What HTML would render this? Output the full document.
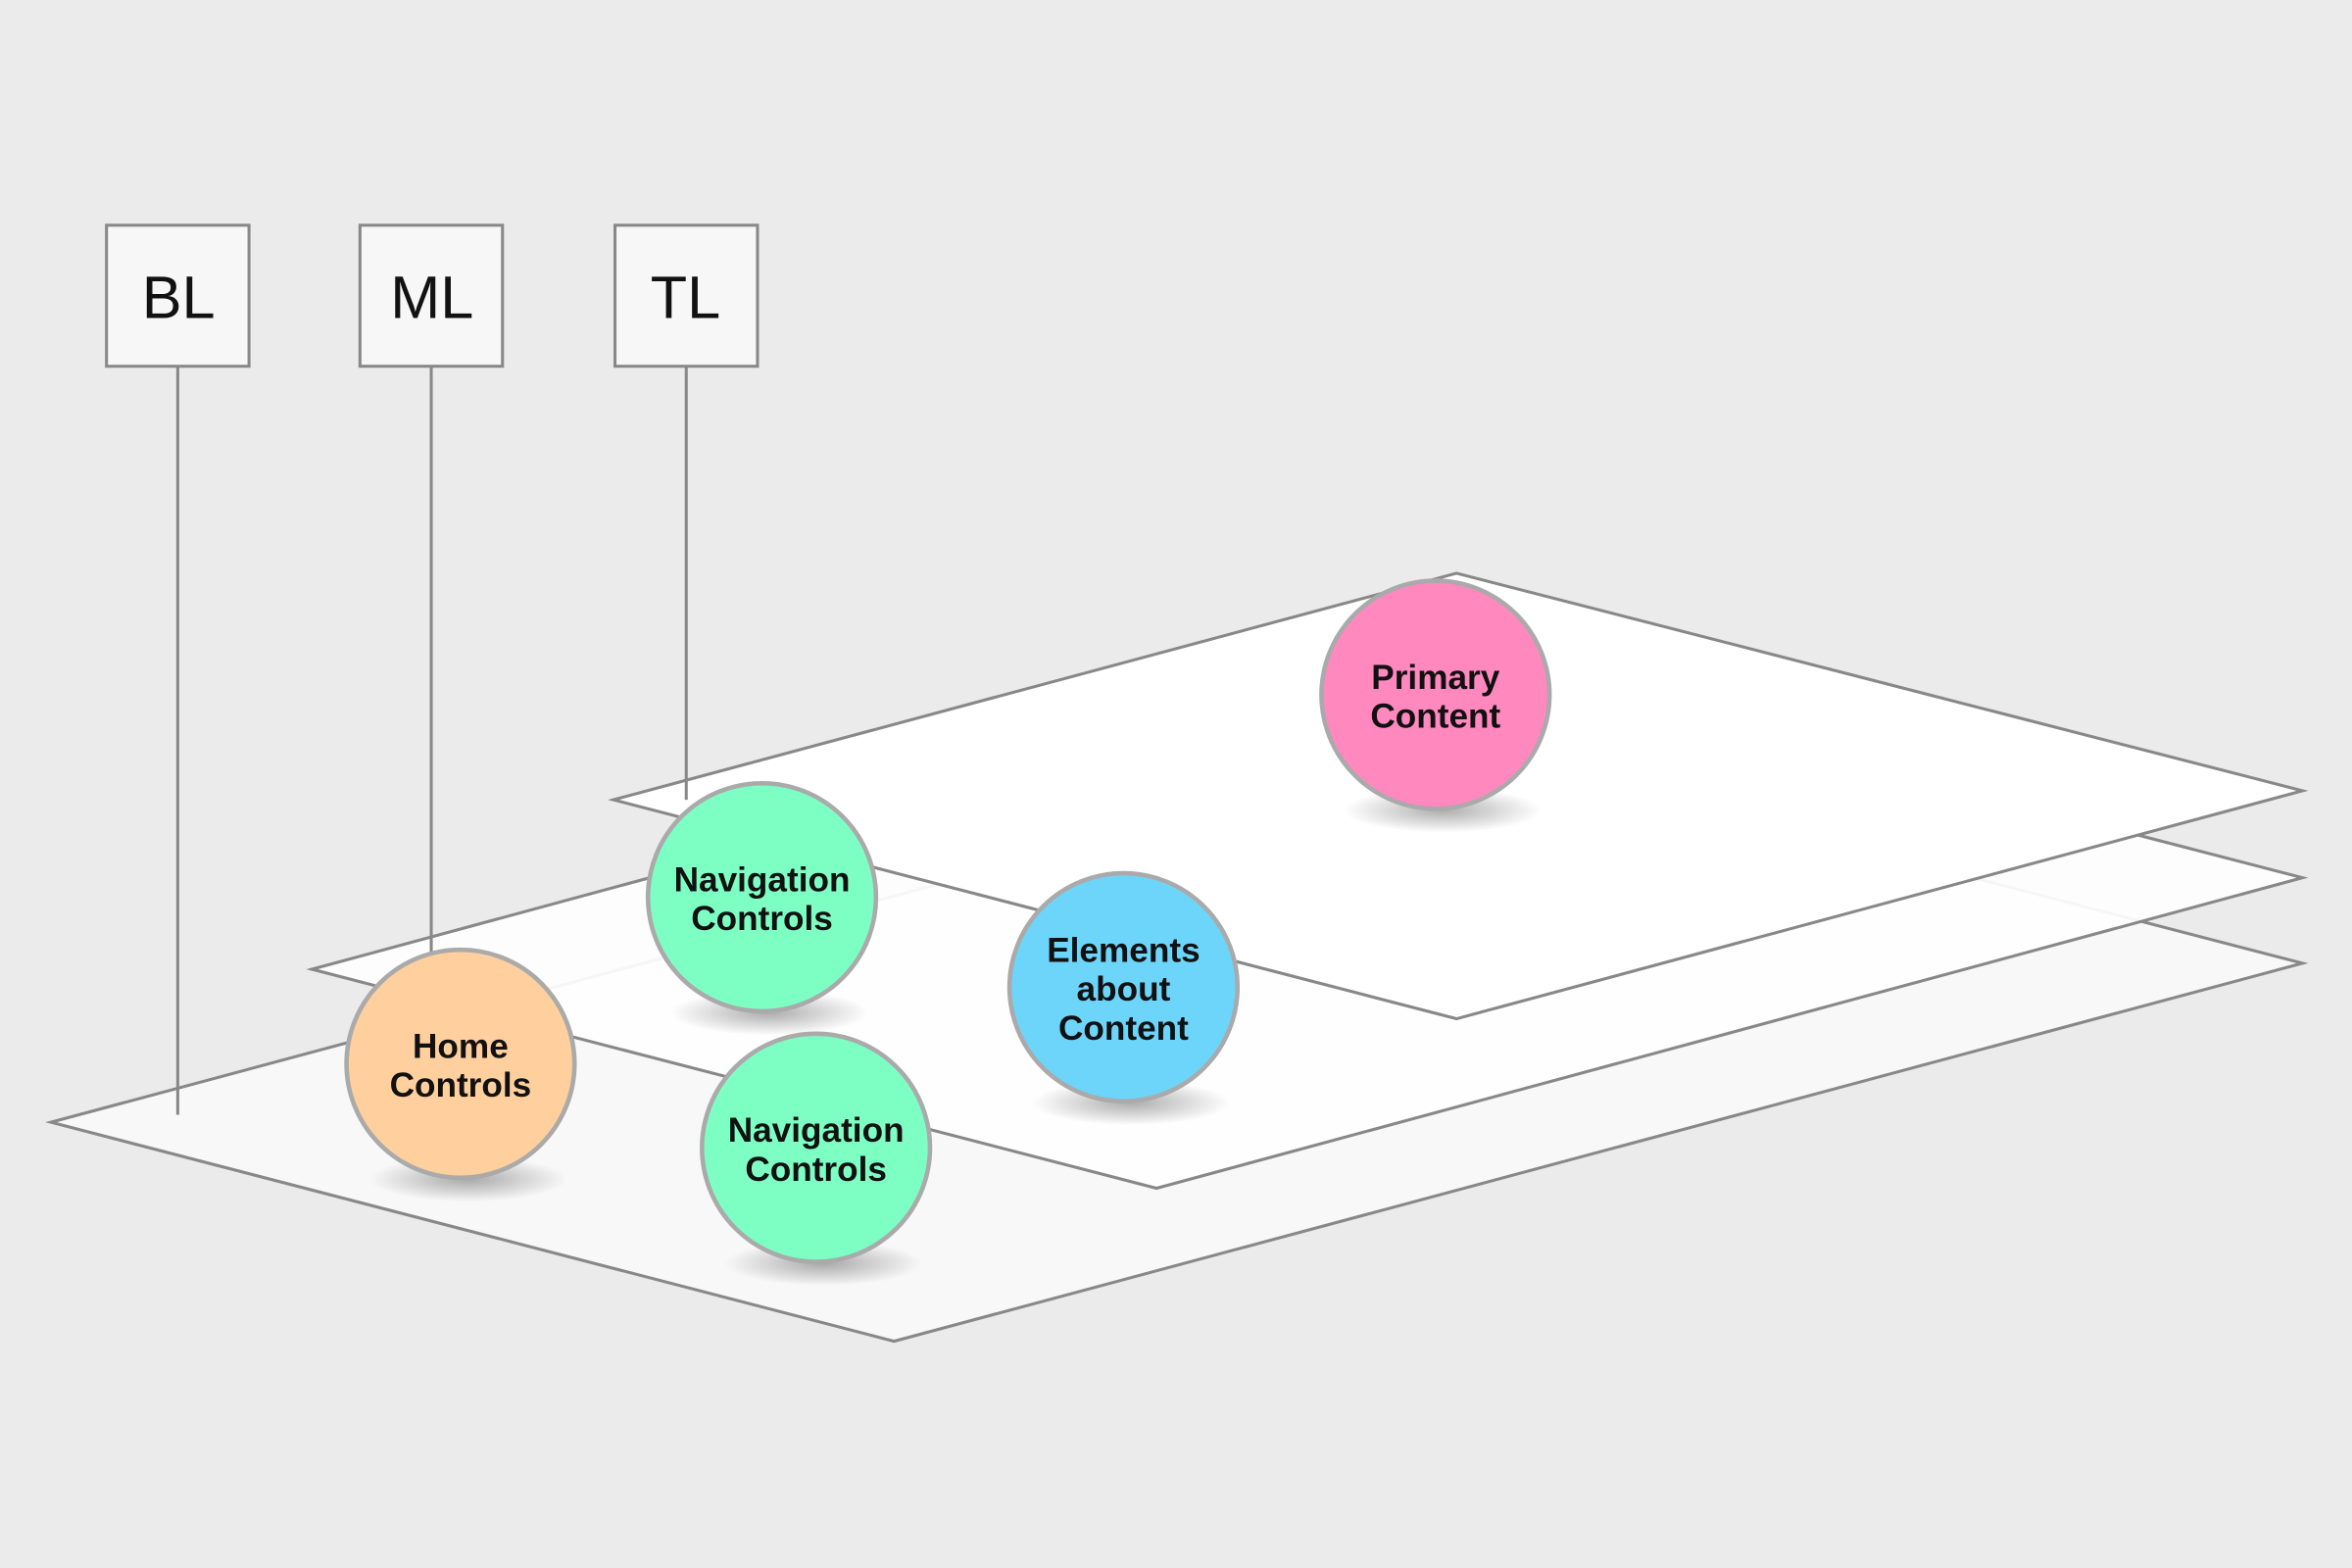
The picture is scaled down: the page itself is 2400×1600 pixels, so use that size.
<!DOCTYPE html>
<html><head><meta charset="utf-8"><style>
html,body{margin:0;padding:0;background:#ebebeb;}
svg{display:block;}
text{font-family:"Liberation Sans","DejaVu Sans",sans-serif;}
</style></head><body>
<svg width="2400" height="1600" viewBox="0 0 1568 1045" xmlns="http://www.w3.org/2000/svg">
<defs>
<radialGradient id="sh" cx="50%" cy="50%" r="50%">
<stop offset="0" stop-color="#000" stop-opacity="0.32"/>
<stop offset="1" stop-color="#000" stop-opacity="0"/>
</radialGradient>
</defs>
<rect width="1568" height="1045" fill="#ebebeb"/>
<polygon points="34,748 973,496 1535,642 596,894" fill="#f8f8f8" stroke="#888" stroke-width="2"/>
<polygon points="208,646 972,439 1535,585 771,792" fill="#fefefe" fill-opacity="0.93" stroke="#888" stroke-width="2"/>
<polygon points="409,533 971,382 1535,527 971,679" fill="#fff" stroke="#888" stroke-width="2"/>
<ellipse cx="962" cy="540" rx="66" ry="15" fill="url(#sh)"/>
<ellipse cx="513" cy="675" rx="66" ry="15" fill="url(#sh)"/>
<ellipse cx="754" cy="735" rx="66" ry="15" fill="url(#sh)"/>
<ellipse cx="312" cy="786" rx="66" ry="15" fill="url(#sh)"/>
<ellipse cx="549" cy="842" rx="66" ry="15" fill="url(#sh)"/>
<g stroke="#888" stroke-width="2">
<line x1="118.5" y1="244" x2="118.5" y2="743"/>
<line x1="287.5" y1="244" x2="287.5" y2="635"/>
<line x1="457.5" y1="244" x2="457.5" y2="533"/>
<rect x="71" y="150" width="95" height="94" fill="#f7f7f7"/>
<rect x="240" y="150" width="95" height="94" fill="#f7f7f7"/>
<rect x="410" y="150" width="95" height="94" fill="#f7f7f7"/>
</g>
<g font-size="40" text-anchor="middle" fill="#111">
<text x="119" y="212">BL</text>
<text x="288" y="212">ML</text>
<text x="457" y="212">TL</text>
</g>
<g stroke="#aaa" stroke-width="3">
<circle cx="957" cy="463" r="76" fill="#ff88bf"/>
<circle cx="508" cy="598" r="76" fill="#7dffc4"/>
<circle cx="749" cy="658" r="76" fill="#6dd5fa"/>
<circle cx="307" cy="709" r="76" fill="#ffcf9e"/>
<circle cx="544" cy="765" r="76" fill="#7dffc4"/>
</g>
<g font-size="23" font-weight="bold" text-anchor="middle" fill="#111">
<text x="957" y="459">Primary</text><text x="957" y="485">Content</text>
<text x="508" y="594">Navigation</text><text x="508" y="620">Controls</text>
<text x="749" y="641">Elements</text><text x="749" y="667">about</text><text x="749" y="693">Content</text>
<text x="307" y="705">Home</text><text x="307" y="731">Controls</text>
<text x="544" y="761">Navigation</text><text x="544" y="787">Controls</text>
</g>
</svg>
</body></html>
